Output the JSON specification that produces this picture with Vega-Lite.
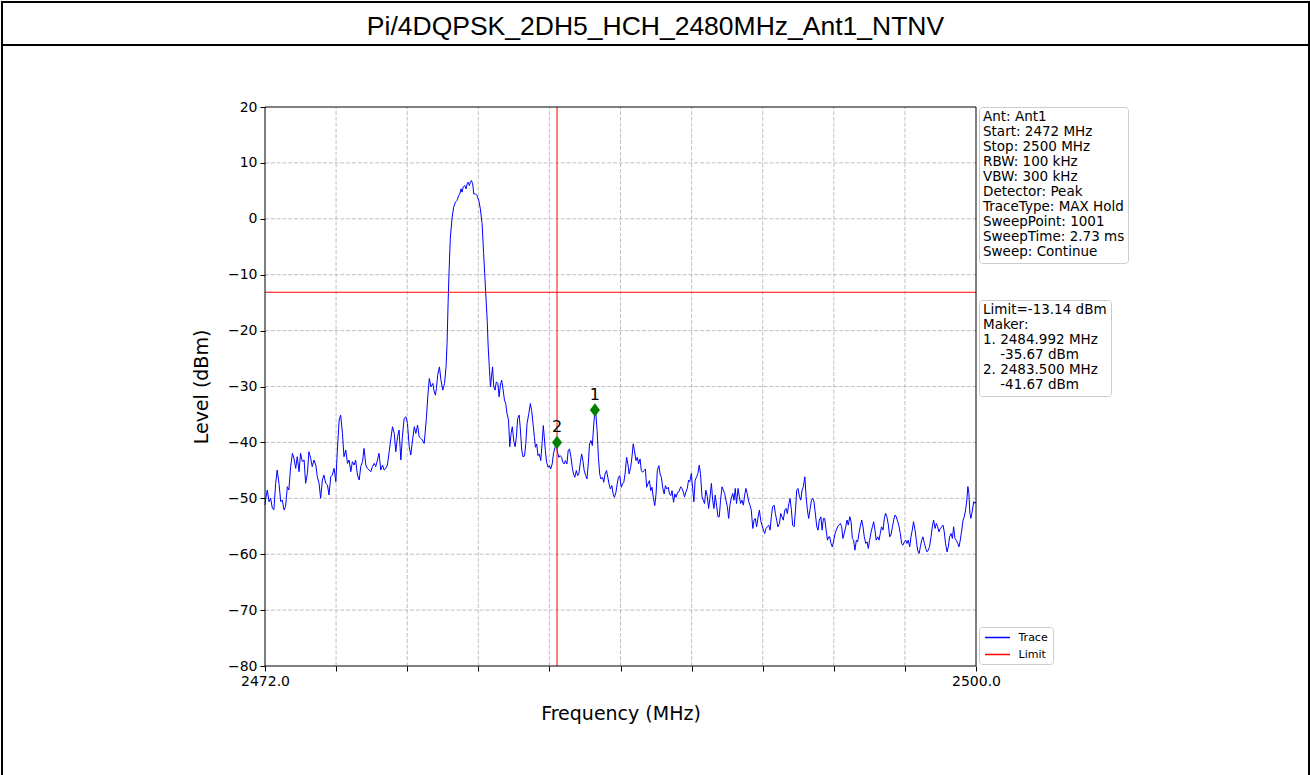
{
  "$schema": "https://vega.github.io/schema/vega-lite/v6.json",
  "padding": {"left": 1, "top": 1, "right": 2, "bottom": 0},
  "spacing": 0,
  "bounds": "flush",
  "config": {"font": "DejaVu Sans", "background": "white"},
  "datasets": {
    "trace": [
      {"f":2472.00,"l":-51.19},{"f":2472.02,"l":-50.30},{"f":2472.09,"l":-48.51},{"f":2472.16,"l":-50.60},{"f":2472.22,"l":-50.00},{"f":2472.29,"l":-51.79},{"f":2472.35,"l":-52.08},{"f":2472.42,"l":-47.32},{"f":2472.48,"l":-44.94},{"f":2472.55,"l":-47.32},
      {"f":2472.62,"l":-50.60},{"f":2472.68,"l":-50.30},{"f":2472.75,"l":-52.08},{"f":2472.81,"l":-51.49},{"f":2472.88,"l":-47.92},{"f":2472.94,"l":-48.51},{"f":2473.01,"l":-44.34},{"f":2473.08,"l":-41.96},{"f":2473.14,"l":-42.86},{"f":2473.21,"l":-44.64},
      {"f":2473.27,"l":-42.56},{"f":2473.34,"l":-45.24},{"f":2473.40,"l":-41.96},{"f":2473.47,"l":-43.45},{"f":2473.54,"l":-43.15},{"f":2473.60,"l":-47.32},{"f":2473.67,"l":-45.54},{"f":2473.73,"l":-41.67},{"f":2473.80,"l":-42.86},{"f":2473.86,"l":-44.34},
      {"f":2473.93,"l":-43.15},{"f":2474.00,"l":-44.05},{"f":2474.06,"l":-46.13},{"f":2474.13,"l":-47.32},{"f":2474.19,"l":-50.00},{"f":2474.26,"l":-46.73},{"f":2474.32,"l":-45.83},{"f":2474.39,"l":-47.32},{"f":2474.46,"l":-47.62},{"f":2474.52,"l":-49.40},
      {"f":2474.59,"l":-46.13},{"f":2474.65,"l":-45.83},{"f":2474.72,"l":-44.64},{"f":2474.79,"l":-47.02},{"f":2474.85,"l":-41.37},{"f":2474.92,"l":-36.01},{"f":2474.98,"l":-35.12},{"f":2475.05,"l":-38.39},{"f":2475.11,"l":-42.56},{"f":2475.18,"l":-41.37},
      {"f":2475.25,"l":-43.75},{"f":2475.31,"l":-43.15},{"f":2475.38,"l":-45.24},{"f":2475.44,"l":-43.45},{"f":2475.51,"l":-44.05},{"f":2475.57,"l":-43.15},{"f":2475.64,"l":-45.83},{"f":2475.71,"l":-46.73},{"f":2475.77,"l":-44.34},{"f":2475.84,"l":-43.45},
      {"f":2475.90,"l":-41.07},{"f":2475.97,"l":-44.05},{"f":2476.03,"l":-44.64},{"f":2476.10,"l":-44.94},{"f":2476.17,"l":-45.24},{"f":2476.23,"l":-44.34},{"f":2476.30,"l":-43.75},{"f":2476.36,"l":-44.34},{"f":2476.43,"l":-43.15},{"f":2476.49,"l":-41.96},
      {"f":2476.56,"l":-44.94},{"f":2476.63,"l":-44.05},{"f":2476.69,"l":-44.94},{"f":2476.76,"l":-44.64},{"f":2476.82,"l":-44.05},{"f":2476.89,"l":-41.67},{"f":2476.95,"l":-39.58},{"f":2477.02,"l":-37.20},{"f":2477.09,"l":-38.39},{"f":2477.15,"l":-41.67},
      {"f":2477.22,"l":-38.99},{"f":2477.28,"l":-37.80},{"f":2477.35,"l":-43.15},{"f":2477.41,"l":-38.99},{"f":2477.48,"l":-35.71},{"f":2477.55,"l":-35.42},{"f":2477.61,"l":-36.61},{"f":2477.68,"l":-40.77},{"f":2477.74,"l":-42.26},{"f":2477.81,"l":-39.58},
      {"f":2477.88,"l":-37.20},{"f":2477.94,"l":-38.39},{"f":2478.01,"l":-36.90},{"f":2478.07,"l":-38.99},{"f":2478.14,"l":-39.29},{"f":2478.20,"l":-39.58},{"f":2478.27,"l":-40.18},{"f":2478.36,"l":-35.42},
      {"f":2478.41,"l":-31.85},{"f":2478.47,"l":-28.57},{"f":2478.54,"l":-30.06},{"f":2478.61,"l":-29.46},{"f":2478.65,"l":-30.65},{"f":2478.71,"l":-31.55},{"f":2478.75,"l":-30.36},{"f":2478.80,"l":-27.98},{"f":2478.87,"l":-26.49},{"f":2478.93,"l":-28.87},
      {"f":2479.00,"l":-30.65},{"f":2479.07,"l":-29.46},{"f":2479.13,"l":-26.49},{"f":2479.17,"l":-22.32},{"f":2479.21,"l":-15.18},{"f":2479.25,"l":-9.23},{"f":2479.30,"l":-3.27},{"f":2479.37,"l":0.30},{"f":2479.43,"l":2.08},{"f":2479.50,"l":2.98},
      {"f":2479.56,"l":3.27},{"f":2479.63,"l":4.17},{"f":2479.67,"l":4.46},{"f":2479.72,"l":5.36},{"f":2479.76,"l":4.76},{"f":2479.80,"l":5.65},{"f":2479.87,"l":5.95},{"f":2479.92,"l":5.36},{"f":2479.96,"l":6.25},{"f":2480.00,"l":6.55},
      {"f":2480.05,"l":5.95},{"f":2480.09,"l":6.55},{"f":2480.13,"l":6.85},{"f":2480.18,"l":6.25},{"f":2480.22,"l":4.46},{"f":2480.29,"l":4.46},{"f":2480.35,"l":4.17},{"f":2480.42,"l":3.27},{"f":2480.48,"l":1.79},{"f":2480.55,"l":-0.89},
      {"f":2480.61,"l":-6.25},{"f":2480.68,"l":-12.20},{"f":2480.75,"l":-18.15},{"f":2480.79,"l":-22.92},{"f":2480.84,"l":-27.08},{"f":2480.88,"l":-30.06},{"f":2480.92,"l":-28.27},{"f":2480.96,"l":-26.49},{"f":2481.01,"l":-30.06},{"f":2481.06,"l":-30.65},
      {"f":2481.11,"l":-29.17},{"f":2481.17,"l":-29.46},{"f":2481.22,"l":-31.85},{"f":2481.27,"l":-29.76},{"f":2481.32,"l":-28.87},{"f":2481.38,"l":-30.65},{"f":2481.43,"l":-32.44},{"f":2481.48,"l":-33.04},{"f":2481.53,"l":-34.82},{"f":2481.59,"l":-36.01},
      {"f":2481.64,"l":-40.77},{"f":2481.69,"l":-38.39},{"f":2481.74,"l":-37.20},{"f":2481.80,"l":-39.88},{"f":2481.85,"l":-40.77},{"f":2481.90,"l":-38.99},{"f":2481.95,"l":-35.71},{"f":2482.01,"l":-35.12},{"f":2482.06,"l":-37.80},{"f":2482.11,"l":-41.37},
      {"f":2482.16,"l":-42.56},{"f":2482.22,"l":-42.44},{"f":2482.27,"l":-40.18},{"f":2482.32,"l":-36.61},{"f":2482.39,"l":-34.82},{"f":2482.45,"l":-33.04},
      {"f":2482.50,"l":-34.30},{"f":2482.57,"l":-37.28},{"f":2482.61,"l":-39.08},{"f":2482.65,"l":-40.87},{"f":2482.70,"l":-40.27},{"f":2482.75,"l":-42.36},{"f":2482.80,"l":-42.06},{"f":2482.86,"l":-43.25},{"f":2482.91,"l":-40.27},{"f":2482.96,"l":-36.99},
      {"f":2483.00,"l":-39.08},{"f":2483.04,"l":-41.46},{"f":2483.09,"l":-43.55},{"f":2483.15,"l":-44.45},{"f":2483.20,"l":-44.15},{"f":2483.25,"l":-44.75},{"f":2483.31,"l":-43.85},{"f":2483.36,"l":-42.06},{"f":2483.42,"l":-40.87},{"f":2483.46,"l":-40.27},
      {"f":2483.52,"l":-41.76},{"f":2483.57,"l":-42.66},{"f":2483.62,"l":-42.36},{"f":2483.68,"l":-42.66},{"f":2483.73,"l":-43.55},{"f":2483.78,"l":-43.85},{"f":2483.83,"l":-43.25},{"f":2483.89,"l":-43.85},{"f":2483.94,"l":-41.46},{"f":2483.99,"l":-41.16},
      {"f":2484.05,"l":-42.66},{"f":2484.10,"l":-44.45},{"f":2484.15,"l":-45.64},{"f":2484.20,"l":-46.24},{"f":2484.26,"l":-45.04},{"f":2484.31,"l":-45.94},{"f":2484.36,"l":-45.64},{"f":2484.42,"l":-43.55},{"f":2484.47,"l":-42.06},{"f":2484.52,"l":-43.25},
      {"f":2484.57,"l":-45.04},{"f":2484.63,"l":-45.94},{"f":2484.68,"l":-46.54},{"f":2484.73,"l":-43.85},{"f":2484.78,"l":-40.27},{"f":2484.84,"l":-39.67},{"f":2484.89,"l":-40.57},{"f":2484.94,"l":-37.28},{"f":2484.98,"l":-34.90},{"f":2485.02,"l":-34.30},
      {"f":2485.08,"l":-37.88},{"f":2485.13,"l":-42.66},{"f":2485.18,"l":-45.64},{"f":2485.23,"l":-46.54},{"f":2485.29,"l":-46.24},{"f":2485.34,"l":-47.13},{"f":2485.39,"l":-45.64},{"f":2485.45,"l":-45.04},{"f":2485.50,"l":-46.24},{"f":2485.55,"l":-47.43},
      {"f":2485.60,"l":-48.33},{"f":2485.66,"l":-47.73},{"f":2485.71,"l":-49.22},{"f":2485.76,"l":-49.82},{"f":2485.82,"l":-48.93},{"f":2485.87,"l":-47.43},{"f":2485.92,"l":-46.24},{"f":2485.97,"l":-45.94},{"f":2486.03,"l":-48.03},{"f":2486.08,"l":-47.43},
      {"f":2486.13,"l":-47.13},{"f":2486.18,"l":-45.64},{"f":2486.24,"l":-42.66},{"f":2486.29,"l":-43.85},{"f":2486.34,"l":-45.64},{"f":2486.40,"l":-44.45},{"f":2486.45,"l":-42.66},{"f":2486.50,"l":-40.27},{"f":2486.55,"l":-41.46},{"f":2486.61,"l":-43.25},
      {"f":2486.66,"l":-42.66},{"f":2486.71,"l":-43.85},{"f":2486.77,"l":-42.95},{"f":2486.82,"l":-45.04},{"f":2486.87,"l":-45.34},{"f":2486.92,"l":-45.04},{"f":2486.98,"l":-44.75},{"f":2487.03,"l":-48.03},{"f":2487.08,"l":-47.43},{"f":2487.14,"l":-46.84},
      {"f":2487.19,"l":-48.63},{"f":2487.24,"l":-48.03},{"f":2487.29,"l":-49.82},{"f":2487.35,"l":-51.31},{"f":2487.40,"l":-49.22},{"f":2487.45,"l":-45.04},{"f":2487.51,"l":-44.15},{"f":2487.56,"l":-45.64},{"f":2487.61,"l":-46.24},{"f":2487.66,"l":-48.03},
      {"f":2487.72,"l":-49.22},{"f":2487.77,"l":-47.73},{"f":2487.82,"l":-48.33},{"f":2487.88,"l":-48.03},{"f":2487.93,"l":-49.22},{"f":2487.98,"l":-49.52},{"f":2488.03,"l":-48.63},{"f":2488.09,"l":-50.72},{"f":2488.14,"l":-49.22},{"f":2488.19,"l":-49.82},
      {"f":2488.25,"l":-48.93},
      {"f":2488.30,"l":-48.84},{"f":2488.37,"l":-47.94},{"f":2488.42,"l":-48.24},{"f":2488.47,"l":-48.84},{"f":2488.52,"l":-49.73},{"f":2488.58,"l":-48.84},{"f":2488.63,"l":-48.24},{"f":2488.68,"l":-46.75},{"f":2488.73,"l":-47.04},{"f":2488.79,"l":-45.55},
      {"f":2488.84,"l":-48.24},{"f":2488.89,"l":-50.63},{"f":2488.94,"l":-46.75},{"f":2489.00,"l":-46.15},{"f":2489.05,"l":-45.55},{"f":2489.10,"l":-44.06},{"f":2489.15,"l":-45.55},{"f":2489.21,"l":-49.73},{"f":2489.26,"l":-50.33},{"f":2489.31,"l":-50.93},
      {"f":2489.36,"l":-48.54},{"f":2489.42,"l":-49.73},{"f":2489.47,"l":-51.82},{"f":2489.52,"l":-50.03},{"f":2489.58,"l":-47.34},{"f":2489.63,"l":-50.33},{"f":2489.68,"l":-51.82},{"f":2489.73,"l":-49.43},{"f":2489.79,"l":-51.52},{"f":2489.84,"l":-53.31},
      {"f":2489.89,"l":-53.31},{"f":2489.94,"l":-50.33},{"f":2490.00,"l":-47.94},{"f":2490.05,"l":-48.54},{"f":2490.10,"l":-49.13},{"f":2490.15,"l":-50.33},{"f":2490.21,"l":-51.52},{"f":2490.26,"l":-53.61},{"f":2490.31,"l":-51.22},{"f":2490.36,"l":-50.03},
      {"f":2490.42,"l":-49.13},{"f":2490.47,"l":-50.33},{"f":2490.52,"l":-48.24},{"f":2490.57,"l":-50.93},{"f":2490.63,"l":-48.24},{"f":2490.68,"l":-49.73},{"f":2490.73,"l":-50.93},{"f":2490.78,"l":-50.33},{"f":2490.84,"l":-51.22},{"f":2490.89,"l":-49.43},
      {"f":2490.94,"l":-48.24},{"f":2490.99,"l":-49.13},{"f":2491.05,"l":-50.63},{"f":2491.10,"l":-51.22},{"f":2491.15,"l":-52.12},{"f":2491.21,"l":-55.40},{"f":2491.26,"l":-53.91},{"f":2491.31,"l":-53.61},{"f":2491.36,"l":-55.10},{"f":2491.42,"l":-53.31},
      {"f":2491.47,"l":-52.12},{"f":2491.52,"l":-53.91},{"f":2491.57,"l":-54.81},{"f":2491.63,"l":-55.70},{"f":2491.68,"l":-56.30},{"f":2491.73,"l":-55.40},{"f":2491.78,"l":-55.10},{"f":2491.84,"l":-54.81},{"f":2491.89,"l":-55.70},{"f":2491.94,"l":-53.31},
      {"f":2491.99,"l":-51.52},{"f":2492.05,"l":-51.22},{"f":2492.10,"l":-52.72},{"f":2492.15,"l":-53.91},{"f":2492.20,"l":-55.10},{"f":2492.26,"l":-54.51},{"f":2492.31,"l":-52.72},{"f":2492.36,"l":-53.31},{"f":2492.41,"l":-53.91},{"f":2492.47,"l":-52.12},
      {"f":2492.52,"l":-51.82},{"f":2492.57,"l":-52.72},{"f":2492.63,"l":-50.93},{"f":2492.68,"l":-50.03},{"f":2492.73,"l":-52.12},{"f":2492.78,"l":-54.81},{"f":2492.84,"l":-55.10},{"f":2492.89,"l":-52.12},{"f":2492.94,"l":-48.54},{"f":2492.99,"l":-48.24},
      {"f":2493.05,"l":-49.73},{"f":2493.10,"l":-50.33},{"f":2493.15,"l":-48.54},{"f":2493.20,"l":-47.94},{"f":2493.26,"l":-46.15},{"f":2493.31,"l":-49.73},{"f":2493.36,"l":-52.12},{"f":2493.41,"l":-53.61},{"f":2493.47,"l":-51.82},{"f":2493.52,"l":-50.33},
      {"f":2493.57,"l":-50.03},{"f":2493.62,"l":-50.63},{"f":2493.68,"l":-53.01},{"f":2493.73,"l":-55.10},{"f":2493.78,"l":-55.70},{"f":2493.83,"l":-53.91},{"f":2493.89,"l":-53.31},{"f":2493.94,"l":-55.70},{"f":2493.99,"l":-53.61},{"f":2494.04,"l":-53.61},
      {"f":2494.10,"l":-55.70},{"f":2494.15,"l":-57.49},{"f":2494.20,"l":-56.90},
      {"f":2494.24,"l":-56.89},{"f":2494.29,"l":-58.08},{"f":2494.34,"l":-58.68},{"f":2494.39,"l":-57.78},{"f":2494.45,"l":-56.29},{"f":2494.50,"l":-55.69},{"f":2494.55,"l":-55.09},{"f":2494.60,"l":-54.79},{"f":2494.66,"l":-54.49},{"f":2494.71,"l":-55.09},
      {"f":2494.76,"l":-57.19},{"f":2494.81,"l":-56.29},{"f":2494.87,"l":-55.09},{"f":2494.92,"l":-53.89},{"f":2494.97,"l":-54.79},{"f":2495.03,"l":-53.29},{"f":2495.08,"l":-54.19},{"f":2495.13,"l":-57.19},{"f":2495.18,"l":-57.49},{"f":2495.23,"l":-59.28},
      {"f":2495.29,"l":-57.49},{"f":2495.34,"l":-57.78},{"f":2495.39,"l":-56.29},{"f":2495.44,"l":-55.09},{"f":2495.50,"l":-53.89},{"f":2495.55,"l":-55.09},{"f":2495.60,"l":-56.89},{"f":2495.66,"l":-58.08},{"f":2495.71,"l":-57.78},{"f":2495.76,"l":-58.98},
      {"f":2495.81,"l":-57.49},{"f":2495.87,"l":-55.99},{"f":2495.92,"l":-55.09},{"f":2495.97,"l":-54.19},{"f":2496.02,"l":-55.69},{"f":2496.07,"l":-57.49},{"f":2496.13,"l":-56.89},{"f":2496.18,"l":-57.49},{"f":2496.23,"l":-56.29},{"f":2496.28,"l":-55.09},
      {"f":2496.34,"l":-55.69},{"f":2496.39,"l":-53.59},{"f":2496.44,"l":-52.69},{"f":2496.49,"l":-53.29},{"f":2496.55,"l":-54.79},{"f":2496.60,"l":-56.89},{"f":2496.65,"l":-56.59},{"f":2496.71,"l":-55.09},{"f":2496.76,"l":-53.89},{"f":2496.81,"l":-52.99},
      {"f":2496.86,"l":-53.29},{"f":2496.92,"l":-54.19},{"f":2496.97,"l":-55.09},{"f":2497.02,"l":-56.29},{"f":2497.07,"l":-58.08},{"f":2497.12,"l":-58.38},{"f":2497.18,"l":-57.78},{"f":2497.23,"l":-57.49},{"f":2497.28,"l":-58.08},{"f":2497.33,"l":-57.49},
      {"f":2497.39,"l":-58.68},{"f":2497.44,"l":-56.89},{"f":2497.49,"l":-55.69},{"f":2497.54,"l":-54.19},{"f":2497.60,"l":-55.69},{"f":2497.65,"l":-57.49},{"f":2497.70,"l":-59.28},{"f":2497.76,"l":-59.88},{"f":2497.81,"l":-58.68},{"f":2497.86,"l":-57.49},
      {"f":2497.91,"l":-56.89},{"f":2497.97,"l":-58.08},{"f":2498.02,"l":-58.98},{"f":2498.07,"l":-59.58},{"f":2498.12,"l":-59.28},{"f":2498.17,"l":-58.68},{"f":2498.23,"l":-56.89},{"f":2498.28,"l":-55.09},{"f":2498.33,"l":-53.89},{"f":2498.39,"l":-55.39},
      {"f":2498.44,"l":-54.49},{"f":2498.49,"l":-55.09},{"f":2498.54,"l":-55.99},{"f":2498.60,"l":-55.39},{"f":2498.65,"l":-55.09},{"f":2498.70,"l":-54.79},{"f":2498.75,"l":-55.99},{"f":2498.80,"l":-58.08},{"f":2498.86,"l":-59.58},{"f":2498.91,"l":-58.68},
      {"f":2498.96,"l":-56.89},{"f":2499.02,"l":-56.29},{"f":2499.07,"l":-57.19},{"f":2499.12,"l":-55.09},{"f":2499.17,"l":-57.19},{"f":2499.22,"l":-57.49},{"f":2499.28,"l":-58.08},{"f":2499.33,"l":-58.68},{"f":2499.38,"l":-57.49},{"f":2499.44,"l":-55.69},
      {"f":2499.49,"l":-53.89},{"f":2499.54,"l":-53.29},{"f":2499.59,"l":-52.09},{"f":2499.64,"l":-50.30},{"f":2499.68,"l":-47.90},{"f":2499.72,"l":-49.10},{"f":2499.76,"l":-52.69},{"f":2499.80,"l":-53.59},{"f":2499.86,"l":-52.09},{"f":2499.91,"l":-50.60},
      {"f":2499.96,"l":-50.90},{"f":2500.00,"l":-50.60}
    ],
    "markers": [
      {"m": "1", "f": 2484.992, "l": -34.2},
      {"m": "2", "f": 2483.5, "l": -40.0}
    ],
    "xgrid": [{"f":2474.8},{"f":2477.6},{"f":2480.4},{"f":2483.2},{"f":2486.0},{"f":2488.8},{"f":2491.6},{"f":2494.4},{"f":2497.2}],
    "ygrid": [{"l":-70},{"l":-60},{"l":-50},{"l":-40},{"l":-30},{"l":-20},{"l":-10},{"l":0},{"l":10}],
    "info": [
      {"info": "Ant: Ant1"},
      {"info": "Start: 2472 MHz"},
      {"info": "Stop: 2500 MHz"},
      {"info": "RBW: 100 kHz"},
      {"info": "VBW: 300 kHz"},
      {"info": "Detector: Peak"},
      {"info": "TraceType: MAX Hold"},
      {"info": "SweepPoint: 1001"},
      {"info": "SweepTime: 2.73 ms"},
      {"info": "Sweep: Continue"}
    ],
    "limits": [
      {"mk": "Limit=-13.14 dBm"},
      {"mk": "Maker:"},
      {"mk": "1. 2484.992 MHz"},
      {"mk": "\u200b\u00a0\u00a0\u00a0\u00a0-35.67 dBm"},
      {"mk": "2. 2483.500 MHz"},
      {"mk": "\u200b\u00a0\u00a0\u00a0\u00a0-41.67 dBm"}
    ]
  },
  "vconcat": [
    {
      "width": 1307,
      "height": 43,
      "view": {"stroke": "#000000", "strokeWidth": 2},
      "data": {"values": [{"t": "Pi/4DQPSK_2DH5_HCH_2480MHz_Ant1_NTNV"}]},
      "mark": {"type": "text", "font": "Liberation Sans", "fontSize": 26.5, "baseline": "alphabetic", "dy": 11, "color": "#000000"},
      "encoding": {"text": {"field": "t"}}
    },
    {
      "width": 1307,
      "height": 731,
      "view": {"stroke": "#000000", "strokeWidth": 2, "fill": "white"},
      "layer": [
        {
          "data": {"name": "xgrid"},
          "mark": {"type": "rule", "color": "#b0b0b0", "strokeWidth": 0.8, "strokeDash": [4, 1.8]},
          "encoding": {
            "x": {"field": "f", "type": "quantitative",
              "scale": {"domain": [2472, 2500], "range": [263, 974], "nice": false, "zero": false},
              "axis": {"title": "Frequency (MHz)", "values": [2472, 2474.8, 2477.6, 2480.4, 2483.2, 2486.0, 2488.8, 2491.6, 2494.4, 2497.2, 2500],
                "labelExpr": "datum.value == 2472 || datum.value == 2500 ? format(datum.value, '.1f') : ''",
                "offset": -110, "grid": false, "domain": false, "tickColor": "#000000", "tickSize": 5, "tickWidth": 1,
                "labelFont": "DejaVu Sans", "labelFontSize": 14, "labelColor": "#000000", "labelPadding": 3,
                "labelFlush": false, "labelOverlap": false,
                "titleFont": "DejaVu Sans", "titleFontSize": 19, "titleFontWeight": "normal", "titleColor": "#000000", "titlePadding": 16}},
            "y": {"datum": -80, "type": "quantitative", "scale": {"domain": [-80, 20], "range": [621, 62], "nice": false, "zero": false},
              "axis": {"title": "Level (dBm)", "values": [-80, -70, -60, -50, -40, -30, -20, -10, 0, 10, 20],
                "offset": -263, "grid": false, "domain": false, "tickColor": "#000000", "tickSize": 5, "tickWidth": 1,
                "labelFont": "DejaVu Sans", "labelFontSize": 14, "labelColor": "#000000", "labelPadding": 3,
                "labelFlush": false, "labelOverlap": false,
                "titleFont": "DejaVu Sans", "titleFontSize": 19, "titleFontWeight": "normal", "titleColor": "#000000", "titlePadding": 16}},
            "y2": {"datum": 20}
          }
        },
        {
          "data": {"name": "ygrid"},
          "mark": {"type": "rule", "color": "#b0b0b0", "strokeWidth": 0.8, "strokeDash": [4, 1.8]},
          "encoding": {
            "y": {"field": "l", "type": "quantitative", "scale": {"domain": [-80, 20], "range": [621, 62], "nice": false, "zero": false}},
            "x": {"datum": 2472, "type": "quantitative", "scale": {"domain": [2472, 2500], "range": [263, 974], "nice": false, "zero": false}},
            "x2": {"datum": 2500}
          }
        },
        {
          "data": {"name": "trace"},
          "mark": {"type": "line", "strokeWidth": 1, "interpolate": "linear"},
          "encoding": {
            "x": {"field": "f", "type": "quantitative", "scale": {"domain": [2472, 2500], "range": [263, 974], "nice": false, "zero": false}},
            "y": {"field": "l", "type": "quantitative", "scale": {"domain": [-80, 20], "range": [621, 62], "nice": false, "zero": false}},
            "color": {"datum": "Trace", "type": "nominal",
              "scale": {"domain": ["Trace", "Limit"], "range": ["#0000ff", "#ff0000"]},
              "legend": {"orient": "none", "legendX": 977, "legendY": 625, "title": null,
                "symbolType": "M-2.5,0L2.5,0", "symbolSize": 100, "symbolStrokeWidth": 1.5, "symbolOffset": 8,
                "labelFont": "DejaVu Sans", "labelFontSize": 11, "labelColor": "#000000", "labelOffset": 15,
                "rowPadding": 6, "padding": 4.5, "strokeColor": "#cccccc", "fillColor": "white", "cornerRadius": 3}}
          }
        },
        {
          "data": {"values": [{}]},
          "mark": {"type": "rule", "strokeWidth": 1},
          "encoding": {
            "y": {"datum": -13.14, "type": "quantitative", "scale": {"domain": [-80, 20], "range": [621, 62], "nice": false, "zero": false}},
            "x": {"datum": 2472, "type": "quantitative", "scale": {"domain": [2472, 2500], "range": [263, 974], "nice": false, "zero": false}},
            "x2": {"datum": 2500},
            "color": {"datum": "Limit", "type": "nominal"}
          }
        },
        {
          "data": {"values": [{}]},
          "mark": {"type": "rule", "strokeWidth": 1, "color": "#ff0000"},
          "encoding": {
            "x": {"datum": 2483.5, "type": "quantitative", "scale": {"domain": [2472, 2500], "range": [263, 974], "nice": false, "zero": false}},
            "y": {"datum": -80, "type": "quantitative", "scale": {"domain": [-80, 20], "range": [621, 62], "nice": false, "zero": false}},
            "y2": {"datum": 20}
          }
        },
        {
          "data": {"values": [{}]},
          "mark": {"type": "rect", "filled": false, "color": "#000000", "strokeWidth": 1},
          "encoding": {
            "x": {"datum": 2472, "type": "quantitative", "scale": {"domain": [2472, 2500], "range": [263, 974], "nice": false, "zero": false}},
            "x2": {"datum": 2500},
            "y": {"datum": -80, "type": "quantitative", "scale": {"domain": [-80, 20], "range": [621, 62], "nice": false, "zero": false}},
            "y2": {"datum": 20}
          }
        },
        {
          "data": {"name": "markers"},
          "mark": {"type": "point", "shape": "M0,-1L0.75,0L0,1L-0.75,0Z", "size": 180, "filled": true, "color": "#008000", "opacity": 1},
          "encoding": {
            "x": {"field": "f", "type": "quantitative", "scale": {"domain": [2472, 2500], "range": [263, 974], "nice": false, "zero": false}},
            "y": {"field": "l", "type": "quantitative", "scale": {"domain": [-80, 20], "range": [621, 62], "nice": false, "zero": false}}
          }
        },
        {
          "data": {"name": "markers"},
          "mark": {"type": "text", "font": "DejaVu Sans", "fontSize": 16, "baseline": "alphabetic", "dy": -10, "color": "#000000"},
          "encoding": {
            "x": {"field": "f", "type": "quantitative", "scale": {"domain": [2472, 2500], "range": [263, 974], "nice": false, "zero": false}},
            "y": {"field": "l", "type": "quantitative", "scale": {"domain": [-80, 20], "range": [621, 62], "nice": false, "zero": false}},
            "text": {"field": "m"}
          }
        },
        {
          "data": {"name": "info"},
          "mark": {"type": "point", "opacity": 0},
          "encoding": {
            "shape": {"field": "info", "type": "nominal", "sort": null,
              "legend": {"orient": "none", "legendX": 977, "legendY": 105, "title": null,
                "symbolSize": 0.01, "symbolOpacity": 0, "symbolStrokeWidth": 0.01, "symbolOffset": 0,
                "labelFont": "DejaVu Sans", "labelFontSize": 13.5, "labelColor": "#000000", "labelOffset": -13, "labelLimit": 400,
                "rowPadding": 0, "padding": 3.5, "strokeColor": "#cccccc", "fillColor": "white", "cornerRadius": 3}}
          }
        },
        {
          "data": {"name": "limits"},
          "mark": {"type": "point", "opacity": 0, "filled": true},
          "encoding": {
            "fill": {"field": "mk", "type": "nominal", "sort": null,
              "legend": {"orient": "none", "legendX": 977, "legendY": 298, "title": null,
                "symbolSize": 0.01, "symbolOpacity": 0, "symbolStrokeWidth": 0.01, "symbolOffset": 0,
                "labelFont": "DejaVu Sans", "labelFontSize": 13.5, "labelColor": "#000000", "labelOffset": -13, "labelLimit": 400,
                "rowPadding": 0, "padding": 3.5, "strokeColor": "#cccccc", "fillColor": "white", "cornerRadius": 3}}
          }
        }
      ]
    }
  ]
}
